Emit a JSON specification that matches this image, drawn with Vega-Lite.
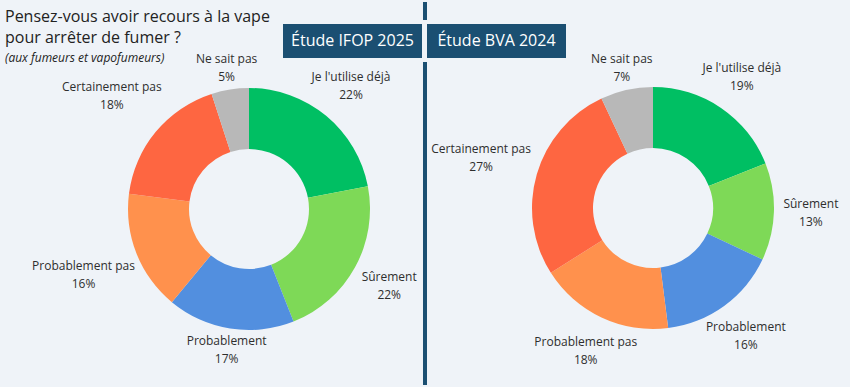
{
  "$schema": "https://vega.github.io/schema/vega-lite/v6.json",
  "width": 850,
  "height": 387,
  "autosize": {"type": "fit", "contains": "padding"},
  "padding": 0,
  "background": "#eff3f8",
  "config": {"view": {"stroke": null}, "font": "Open Sans"},
  "title": {
    "text": ["Pensez-vous avoir recours à la vape", "pour arrêter de fumer ?"],
    "subtitle": "(aux fumeurs et vapofumeurs)",
    "anchor": "start",
    "frame": "group",
    "orient": "top",
    "offset": -64,
    "dx": 5,
    "font": "Open Sans",
    "fontSize": 16,
    "fontWeight": "normal",
    "color": "#222222",
    "lineHeight": 21,
    "subtitleFont": "Open Sans",
    "subtitleFontSize": 12,
    "subtitleFontStyle": "italic",
    "subtitleColor": "#222222",
    "subtitlePadding": 7
  },
  "datasets": {
    "survey": [
      {"study": "Étude IFOP 2025", "rank": 1, "cat": "Je l'utilise déjà", "pct": 22, "label": "Je l'utilise déjà\n22%"},
      {"study": "Étude IFOP 2025", "rank": 2, "cat": "Sûrement", "pct": 22, "label": "Sûrement\n22%"},
      {"study": "Étude IFOP 2025", "rank": 3, "cat": "Probablement", "pct": 17, "label": "Probablement\n17%"},
      {"study": "Étude IFOP 2025", "rank": 4, "cat": "Probablement pas", "pct": 16, "label": "Probablement pas\n16%"},
      {"study": "Étude IFOP 2025", "rank": 5, "cat": "Certainement pas", "pct": 18, "label": "Certainement pas\n18%"},
      {"study": "Étude IFOP 2025", "rank": 6, "cat": "Ne sait pas", "pct": 5, "label": "Ne sait pas\n5%"},
      {"study": "Étude BVA 2024", "rank": 1, "cat": "Je l'utilise déjà", "pct": 19, "label": "Je l'utilise déjà\n19%"},
      {"study": "Étude BVA 2024", "rank": 2, "cat": "Sûrement", "pct": 13, "label": "Sûrement\n13%"},
      {"study": "Étude BVA 2024", "rank": 3, "cat": "Probablement", "pct": 16, "label": "Probablement\n16%"},
      {"study": "Étude BVA 2024", "rank": 4, "cat": "Probablement pas", "pct": 18, "label": "Probablement pas\n18%"},
      {"study": "Étude BVA 2024", "rank": 5, "cat": "Certainement pas", "pct": 27, "label": "Certainement pas\n27%"},
      {"study": "Étude BVA 2024", "rank": 6, "cat": "Ne sait pas", "pct": 7, "label": "Ne sait pas\n7%"}
    ],
    "studies": [
      {"study": "Étude IFOP 2025"},
      {"study": "Étude BVA 2024"}
    ]
  },
  "resolve": {"scale": {"x": "independent", "y": "independent"}},
  "layer": [
    {
      "data": {"name": "studies"},
      "layer": [
        {
          "transform": [{"filter": "datum.study === 'Étude BVA 2024'"}],
          "mark": {"type": "rule", "color": "#1b4f72", "strokeWidth": 4},
          "encoding": {
            "x": {"field": "study", "type": "nominal", "bandPosition": 0,
                  "scale": {"type": "band", "domain": ["Étude IFOP 2025", "Étude BVA 2024"], "range": [281, 568], "paddingInner": 0.00694, "paddingOuter": 0},
                  "axis": null}
          }
        },
        {
          "mark": {"type": "rect", "fill": "#1b4f72", "stroke": "#eff3f8", "strokeWidth": 4},
          "encoding": {
            "x": {"field": "study", "type": "nominal",
                  "scale": {"type": "band", "domain": ["Étude IFOP 2025", "Étude BVA 2024"], "range": [281, 568], "paddingInner": 0.00694, "paddingOuter": 0},
                  "axis": null},
            "y": {"datum": 0, "type": "quantitative", "scale": {"domain": [0, 1], "range": [20, 58]}, "axis": null},
            "y2": {"datum": 1}
          }
        },
        {
          "mark": {"type": "text", "color": "#ffffff", "fontSize": 16, "baseline": "middle", "align": "center"},
          "encoding": {
            "x": {"field": "study", "type": "nominal",
                  "scale": {"type": "band", "domain": ["Étude IFOP 2025", "Étude BVA 2024"], "range": [281, 568], "paddingInner": 0.00694, "paddingOuter": 0},
                  "axis": null},
            "y": {"datum": 0.5, "type": "quantitative", "scale": {"domain": [0, 1], "range": [20, 58]}, "axis": null},
            "text": {"field": "study", "type": "nominal"}
          }
        }
      ]
    },
    {
      "data": {"name": "survey"},
      "encoding": {
        "x": {"field": "study", "type": "nominal", "scale": {"type": "point", "domain": ["Étude IFOP 2025", "Étude BVA 2024"], "range": [249, 653], "padding": 0}, "axis": null},
        "y": {"field": "study", "type": "nominal", "scale": {"type": "point", "domain": ["Étude IFOP 2025", "Étude BVA 2024"], "range": [207, 206], "padding": 0}, "axis": null},
        "theta": {"field": "pct", "type": "quantitative", "stack": true, "scale": {"domain": [0, 100]}},
        "order": {"field": "rank", "type": "quantitative"},
        "detail": {"field": "cat", "type": "nominal"}
      },
      "layer": [
        {
          "transform": [{"filter": "datum.study === 'Étude IFOP 2025'"}],
          "layer": [
            {
              "mark": {"type": "arc", "outerRadius": 121, "innerRadius": 60},
              "encoding": {
                "color": {"field": "cat", "type": "nominal", "legend": null,
                          "scale": {"domain": ["Je l'utilise déjà", "Sûrement", "Probablement", "Probablement pas", "Certainement pas", "Ne sait pas"],
                                    "range": ["#00bf63", "#7ed957", "#528fdf", "#ff914d", "#fe6641", "#b8b8b8"]}}
              }
            },
            {
              "mark": {"type": "text", "radius": 143, "fontSize": 12, "color": "#2e2e2e", "lineBreak": "\n", "lineHeight": 18, "baseline": "middle", "align": "center", "dy": -9},
              "encoding": {"text": {"condition": {"test": "!(datum.cat === 'Ne sait pas' || datum.cat === 'Probablement')", "value": ""}, "field": "label", "type": "nominal"}}
            },
            {
              "mark": {"type": "text", "radius": 160, "fontSize": 12, "color": "#2e2e2e", "lineBreak": "\n", "lineHeight": 18, "baseline": "middle", "align": "center", "dy": -9},
              "encoding": {"text": {"condition": {"test": "!(datum.rank === 1 || datum.rank === 2)", "value": ""}, "field": "label", "type": "nominal"}}
            },
            {
              "mark": {"type": "text", "radius": 178, "fontSize": 12, "color": "#2e2e2e", "lineBreak": "\n", "lineHeight": 18, "baseline": "middle", "align": "center", "dy": -9},
              "encoding": {"text": {"condition": {"test": "!(datum.cat === 'Probablement pas' || datum.cat === 'Certainement pas')", "value": ""}, "field": "label", "type": "nominal"}}
            }
          ]
        },
        {
          "transform": [{"filter": "datum.study === 'Étude BVA 2024'"}],
          "layer": [
            {
              "mark": {"type": "arc", "outerRadius": 121, "innerRadius": 60},
              "encoding": {
                "color": {"field": "cat", "type": "nominal", "legend": null,
                          "scale": {"domain": ["Je l'utilise déjà", "Sûrement", "Probablement", "Probablement pas", "Certainement pas", "Ne sait pas"],
                                    "range": ["#00bf63", "#7ed957", "#528fdf", "#ff914d", "#fe6641", "#b8b8b8"]}}
              }
            },
            {
              "mark": {"type": "text", "radius": 143, "fontSize": 12, "color": "#2e2e2e", "lineBreak": "\n", "lineHeight": 18, "baseline": "middle", "align": "center", "dy": -9},
              "encoding": {"text": {"condition": {"test": "!(datum.cat === 'Ne sait pas')", "value": ""}, "field": "label", "type": "nominal"}}
            },
            {
              "mark": {"type": "text", "radius": 158, "fontSize": 12, "color": "#2e2e2e", "lineBreak": "\n", "lineHeight": 18, "baseline": "middle", "align": "center", "dy": -9},
              "encoding": {"text": {"condition": {"test": "datum.cat === 'Ne sait pas' || datum.cat === 'Certainement pas'", "value": ""}, "field": "label", "type": "nominal"}}
            },
            {
              "mark": {"type": "text", "radius": 179, "fontSize": 12, "color": "#2e2e2e", "lineBreak": "\n", "lineHeight": 18, "baseline": "middle", "align": "center", "dy": -9},
              "encoding": {"text": {"condition": {"test": "!(datum.cat === 'Certainement pas')", "value": ""}, "field": "label", "type": "nominal"}}
            }
          ]
        }
      ]
    }
  ]
}
